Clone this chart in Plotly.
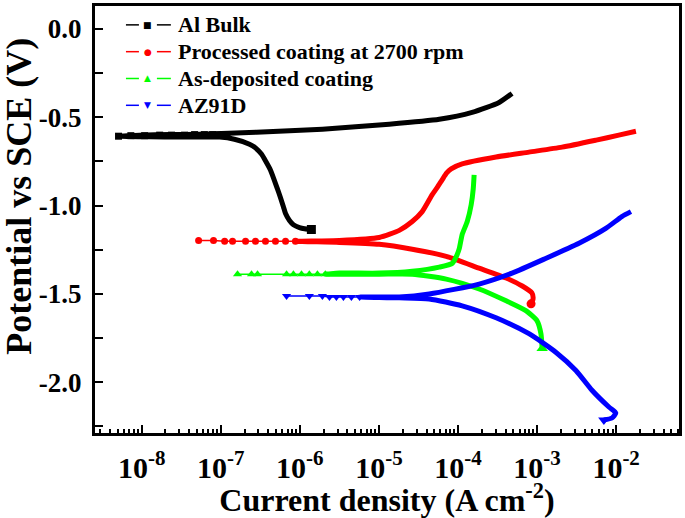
import plotly.graph_objects as go

FONT = "Liberation Serif"

# ---- Al Bulk (cathodic start -> Ecorr -> anodic)
al_i = [1.40e-6, 1.15e-6, 9.9e-7, 8.3e-7, 7.4e-7, 6.6e-7, 6.2e-7, 5.7e-7, 5.2e-7, 4.25e-7, 3.7e-7,
        3.27e-7, 2.75e-7, 2.31e-7, 1.49e-7, 9.7e-8,
        3.0e-8, 1.26e-8, 5.1e-9, 9.4e-9, 2.26e-8, 5.4e-8,
        2.83e-7, 1.93e-6, 1.35e-5, 5.8e-5, 1.51e-4, 3.31e-4, 4.83e-4]
al_e = [-1.135, -1.131, -1.124, -1.108, -1.084, -1.045, -1.006, -0.955, -0.904, -0.798, -0.748,
        -0.708, -0.673, -0.652, -0.624, -0.612,
        -0.612, -0.610, -0.607, -0.601, -0.598, -0.596,
        -0.584, -0.567, -0.539, -0.511, -0.472, -0.416, -0.365]
al_pts_i = [5.1e-9, 7.3e-9, 1.09e-8, 1.69e-8, 2.39e-8, 3.49e-8, 4.67e-8, 6.2e-8, 7.9e-8, 9.7e-8]
al_pts_e = [-0.607, -0.604, -0.604, -0.601, -0.601, -0.601, -0.598, -0.598, -0.598, -0.601]

# ---- Processed coating at 2700 rpm
pc_i = [8.4e-4, 8.9e-4, 8.6e-4, 6.5e-4, 4.06e-4, 1.85e-4, 7.1e-5, 2.64e-5, 1.01e-5, 3.16e-6, 8.8e-7,
        3.16e-6, 1.01e-5, 1.81e-5, 2.64e-5, 3.53e-5, 4.72e-5, 5.5e-5, 6.3e-5, 7.2e-5, 8.2e-5, 1.13e-4,
        3.03e-4, 7.9e-4, 2.07e-3, 5.6e-3, 1.08e-2, 1.78e-2]
pc_e = [-1.556, -1.528, -1.494, -1.455, -1.410, -1.354, -1.287, -1.247, -1.219, -1.208, -1.202,
        -1.197, -1.180, -1.140, -1.090, -1.034, -0.938, -0.895, -0.854, -0.815, -0.792, -0.764,
        -0.725, -0.697, -0.669, -0.629, -0.601, -0.579]
pc_pts_i = [5.25e-8, 8.1e-8, 1.12e-7, 1.41e-7, 2.06e-7, 2.75e-7, 3.68e-7, 4.92e-7, 6.6e-7, 8.8e-7]
pc_pts_e = [-1.197, -1.197, -1.202, -1.202, -1.202, -1.202, -1.202, -1.202, -1.202, -1.202]

# ---- As-deposited coating
ad_i = [1.16e-3, 1.12e-3, 1.0e-3, 7.3e-4, 4.06e-4, 1.85e-4, 7.1e-5, 2.64e-5, 1.01e-5, 2.1e-6,
        3.16e-6, 1.01e-5, 2.64e-5, 5.8e-5, 8.5e-5, 9.8e-5, 1.04e-4, 1.13e-4, 1.31e-4,
        1.47e-4, 1.56e-4, 1.60e-4]
ad_e = [-1.809, -1.725, -1.652, -1.596, -1.539, -1.472, -1.416, -1.388, -1.388, -1.388,
        -1.382, -1.382, -1.371, -1.348, -1.326, -1.275, -1.242, -1.163, -1.090,
        -0.994, -0.904, -0.826]
ad_pts_i = [1.63e-7, 2.45e-7, 2.92e-7, 6.8e-7, 8.3e-7, 1.05e-6, 1.32e-6, 1.67e-6, 2.1e-6]
ad_pts_e = [-1.388] * 9

# ---- AZ91D
az_i = [7.0e-3, 8.85e-3, 9.9e-3, 8.1e-3, 4.95e-3, 3.1e-3, 1.74e-3, 7.9e-4, 3.03e-4, 1.13e-4,
        4.33e-5, 1.81e-5, 5.7e-6,
        1.81e-5, 4.33e-5, 1.85e-4, 4.83e-4, 1.3e-3, 3.39e-3, 7.4e-3, 1.18e-2, 1.54e-2]
az_e = [-2.213, -2.202, -2.174, -2.140, -2.045, -1.933, -1.831, -1.725, -1.635, -1.567,
        -1.528, -1.522, -1.517,
        -1.517, -1.500, -1.444, -1.382, -1.298, -1.213, -1.129, -1.062, -1.034]
az_pts_i = [6.8e-7, 1.32e-6, 1.93e-6, 2.37e-6, 2.9e-6, 3.56e-6, 4.49e-6, 5.7e-6]
az_pts_e = [-1.511, -1.511, -1.511, -1.517, -1.517, -1.517, -1.517, -1.517]

x_tickvals = [1e-8, 1e-7, 1e-6, 1e-5, 1e-4, 1e-3, 1e-2]
x_ticktext = ["10<sup>-8</sup>", "10<sup>-7</sup>", "10<sup>-6</sup>", "10<sup>-5</sup>",
              "10<sup>-4</sup>", "10<sup>-3</sup>", "10<sup>-2</sup>"]
y_tickvals = [0.0, -0.5, -1.0, -1.5, -2.0]
y_ticktext = ["0.0", "-0.5", "-1.0", "-1.5", "-2.0"]

series = [
    ("Al Bulk", "#000000", "square", 7, "■", al_i, al_e, al_pts_i, al_pts_e),
    ("Processed coating at 2700 rpm", "#ff0000", "circle", 7, "●", pc_i, pc_e, pc_pts_i, pc_pts_e),
    ("As-deposited coating", "#00ff00", "triangle-up", 8, "▲", ad_i, ad_e, ad_pts_i, ad_pts_e),
    ("AZ91D", "#0000ff", "triangle-down", 8, "▼", az_i, az_e, az_pts_i, az_pts_e),
]

# plot area in pixels (for placing the hand-made legend and y title)
L, R, T, B = 95, 680, 3, 433
px = lambda v: (v - L) / (R - L)
py = lambda v: 1 - (v - T) / (B - T)
legend_rows = [22, 49, 76, 103]

fig = go.Figure()
shapes, annotations = [], []
for k, (name, col, sym, ms, glyph, xi, ye, pxi, pye) in enumerate(series):
    fig.add_trace(go.Scatter(
        x=xi, y=ye, mode="lines", line=dict(color=col, width=5, shape="spline", smoothing=0.6),
        showlegend=False, hoverinfo="skip", name=name,
    ))
    fig.add_trace(go.Scatter(
        x=pxi, y=pye, mode="lines+markers", line=dict(color=col, width=1.5),
        marker=dict(symbol=sym, size=ms, color=col, line=dict(width=0)),
        showlegend=False, name=name,
    ))
    fig.add_trace(go.Scatter(
        x=xi[:1], y=ye[:1], mode="markers",
        marker=dict(symbol=sym, size=ms + 2, color=col, line=dict(width=0)),
        showlegend=False, hoverinfo="skip", name=name,
    ))

    # legend row: dash - symbol - dash, then label
    yr = py(legend_rows[k])
    for x0, x1 in [(126, 139), (157, 171)]:
        shapes.append(dict(type="line", xref="paper", yref="paper",
                           x0=px(x0), x1=px(x1), y0=yr, y1=yr,
                           line=dict(color=col, width=1.5)))
    annotations.append(dict(
        text=glyph, xref="paper", yref="paper", x=px(148), y=yr,
        xanchor="center", yanchor="middle", showarrow=False,
        font=dict(family="DejaVu Sans", size=9, color=col),
    ))
    annotations.append(dict(
        text=name, xref="paper", yref="paper", x=px(176), y=yr,
        xanchor="left", yanchor="middle", showarrow=False,
        font=dict(family=FONT, size=22, color="black", weight="bold"),
    ))

annotations.append(dict(
    text="Potential vs SCE (V)", textangle=-90,
    xref="paper", yref="paper", x=px(19), y=py(195),
    xanchor="center", yanchor="middle", showarrow=False,
    font=dict(family=FONT, size=36, color="black", weight="bold"),
))

fig.update_layout(
    width=685, height=518,
    margin=dict(l=L, r=685 - R, t=T, b=518 - B),
    plot_bgcolor="white", paper_bgcolor="white",
    font=dict(family=FONT, color="black", weight="bold"),
    showlegend=False,
    shapes=shapes, annotations=annotations,
)
fig.update_xaxes(
    type="log", range=[-8.59, -1.205],
    tickmode="array", tickvals=x_tickvals, ticktext=x_ticktext,
    ticks="inside", ticklen=8, tickwidth=2, tickcolor="black",
    minor=dict(ticks="inside", ticklen=4, tickwidth=1.5, tickcolor="black", dtick="D1"),
    showline=True, linewidth=3, linecolor="black", mirror=True,
    showgrid=False, zeroline=False,
    tickfont=dict(family=FONT, size=30, color="black", weight="bold"),
    ticklabelstandoff=6,
    title=dict(text="Current density (A cm<sup>-2</sup>)", standoff=5,
               font=dict(family=FONT, size=32, color="black", weight="bold")),
)
fig.update_yaxes(
    range=[-2.287, 0.13],
    tickmode="array", tickvals=y_tickvals, ticktext=y_ticktext,
    ticks="inside", ticklen=8, tickwidth=2, tickcolor="black",
    minor=dict(ticks="inside", ticklen=8, tickwidth=2, tickcolor="black",
               tickmode="linear", tick0=0, dtick=0.25),
    showline=True, linewidth=3, linecolor="black", mirror=True,
    showgrid=False, zeroline=False,
    tickfont=dict(family=FONT, size=27, color="black", weight="bold"),
    ticklabelstandoff=5,
)

fig.write_html("out.html", config={"displayModeBar": False},
               post_script="document.body.style.margin='0';")
